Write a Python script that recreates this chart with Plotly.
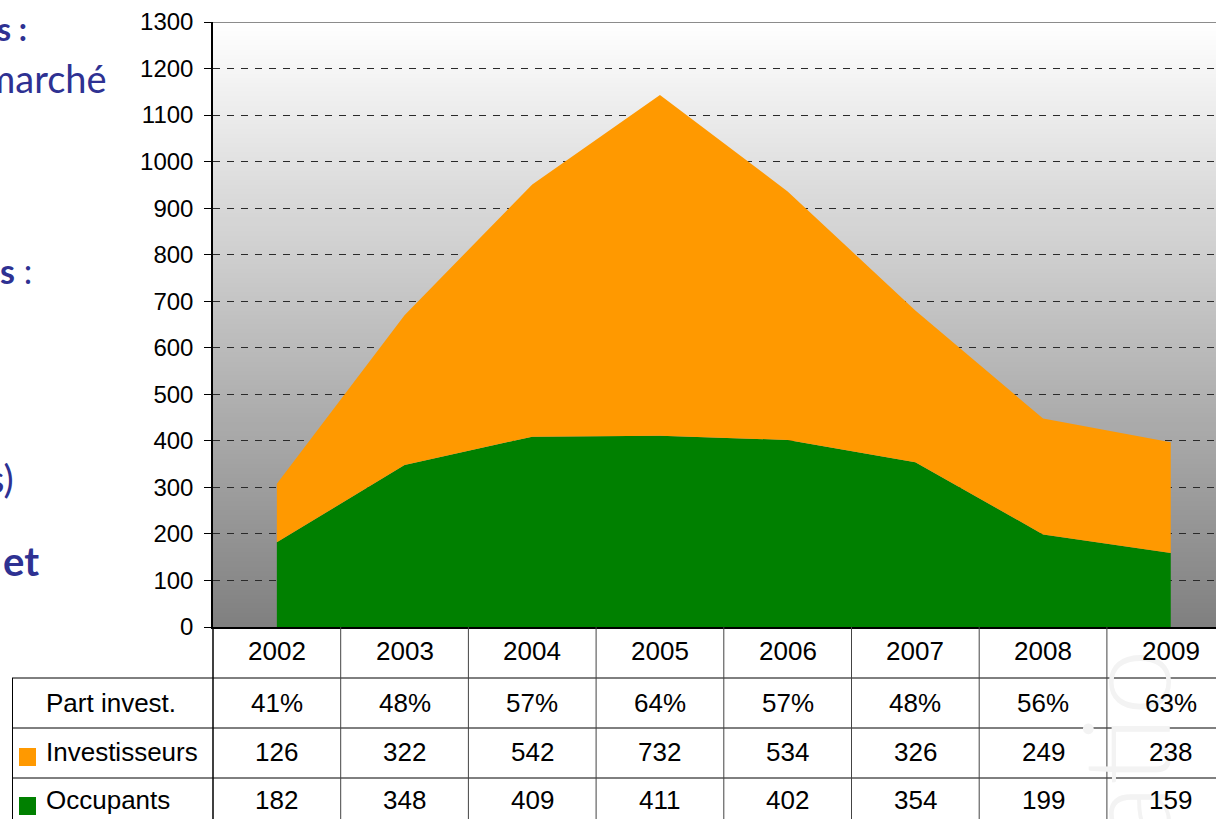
import plotly.graph_objects as go

# ---------------- data ----------------
years = ["2002", "2003", "2004", "2005", "2006", "2007", "2008", "2009"]
part_invest = ["41%", "48%", "57%", "64%", "57%", "48%", "56%", "63%"]
investisseurs = [126, 322, 542, 732, 534, 326, 249, 238]
occupants = [182, 348, 409, 411, 402, 354, 199, 159]
row_labels = ["Part invest.", "Investisseurs", "Occupants"]
y_max = 1300
y_step = 100

# ---------------- geometry helpers ----------------
W, H = 1216, 819
ML, MR, MT, MB = 213, 0, 22, 192
PW, PH = W - ML - MR, H - MT - MB
BOTTOM = MT + PH


def px_x(px):
    return (px - ML) / PW


def px_y(py):
    return (BOTTOM - py) / PH


COL_W = 127.7  # pixels per category
x_range = [-0.5, -0.5 + PW / COL_W]

FONT = "Liberation Sans, Arial, sans-serif"
BLUE = "#2E3192"
TSIZE = 26

fig = go.Figure()

fig.add_trace(go.Scatter(
    x=years, y=occupants, name="Occupants", stackgroup="one", mode="none",
    fillcolor="#008000", line=dict(width=0), hoverinfo="skip"))
fig.add_trace(go.Scatter(
    x=years, y=investisseurs, name="Investisseurs", stackgroup="one", mode="none",
    fillcolor="#FF9900", line=dict(width=0), hoverinfo="skip"))

shapes = []
# gradient background
band = 10
for v in range(0, y_max, band):
    mid = v + band / 2
    g = int(round(128 + (255 - 128) * mid / y_max))
    shapes.append(dict(type="rect", xref="paper", yref="y", x0=0, x1=1,
                       y0=v, y1=min(v + band + 2, y_max),
                       fillcolor=f"rgb({g},{g},{g})", line=dict(width=0),
                       layer="below"))
# top border
shapes.append(dict(type="line", xref="paper", yref="y", x0=0, x1=1, y0=y_max, y1=y_max,
                   line=dict(color="#8c8c8c", width=2), layer="above"))

# table lines
row_bounds = [678, 728, 778]
for py in row_bounds:
    shapes.append(dict(type="line", xref="paper", yref="paper", x0=px_x(12), x1=1,
                       y0=px_y(py), y1=px_y(py), line=dict(color="black", width=1)))
shapes.append(dict(type="line", xref="paper", yref="paper", x0=px_x(12.5), x1=px_x(12.5),
                   y0=px_y(678), y1=px_y(830), line=dict(color="black", width=1)))
shapes.append(dict(type="line", xref="paper", yref="paper", x0=0, x1=0,
                   y0=px_y(627), y1=px_y(830), line=dict(color="black", width=1.5)))
for i in range(len(years) - 1):
    shapes.append(dict(type="line", xref="x", yref="paper", x0=i + 0.5, x1=i + 0.5,
                       y0=px_y(627), y1=px_y(830), line=dict(color="#444444", width=1)))

# legend keys in the table
shapes.append(dict(type="rect", xref="paper", yref="paper", x0=px_x(19), x1=px_x(36),
                   y0=px_y(766), y1=px_y(748), fillcolor="#FF9900", line=dict(width=0)))
shapes.append(dict(type="rect", xref="paper", yref="paper", x0=px_x(19), x1=px_x(36),
                   y0=px_y(815), y1=px_y(797), fillcolor="#008000", line=dict(width=0)))

annotations = []
# watermark (behind text)
annotations.append(dict(text="atio", xref="paper", yref="paper", x=px_x(1124), y=px_y(746),
                        xanchor="center", yanchor="middle", textangle=-90, showarrow=False,
                        font=dict(family="Lato, sans-serif", size=120, color="#f3f3f3", weight=300)))

row_centers = [703, 752, 800]
# years header (category index positions on the x axis)
for i, yr in enumerate(years):
    annotations.append(dict(text=yr, xref="x", yref="paper", x=i, y=px_y(651),
                            xanchor="center", yanchor="middle", showarrow=False,
                            font=dict(family=FONT, size=TSIZE, color="black")))
for i, (a, b, c) in enumerate(zip(part_invest, investisseurs, occupants)):
    for val, yc in zip([a, b, c], row_centers):
        annotations.append(dict(text=str(val), xref="x", yref="paper", x=i, y=px_y(yc),
                                xanchor="center", yanchor="middle", showarrow=False,
                                font=dict(family=FONT, size=TSIZE, color="black")))
for lab, yc in zip(row_labels, row_centers):
    annotations.append(dict(text=lab, xref="paper", yref="paper", x=px_x(44), y=px_y(yc),
                            xanchor="left", yanchor="middle", showarrow=False,
                            font=dict(family=FONT, size=TSIZE, color="black")))

# clipped slide text on the left
side_text = [
    ("<b>s :</b>", 29, 29, 32),
    ("marché", 109, 78, 38),
    ("<b>s</b> :", 34, 270, 34),
    ("s)", 16, 478, 38),
    ("<b>et</b>", 41, 561, 40),
]
for txt, xr, yc, sz in side_text:
    annotations.append(dict(text=txt, xref="paper", yref="paper", x=px_x(xr), y=px_y(yc),
                            xanchor="right", yanchor="middle", showarrow=False,
                            font=dict(family="Lato, sans-serif", size=sz, color=BLUE)))

fig.update_layout(
    width=W, height=H,
    margin=dict(l=ML, r=MR, t=MT, b=MB, pad=0),
    paper_bgcolor="white", plot_bgcolor="white",
    showlegend=False,
    shapes=shapes, annotations=annotations,
    xaxis=dict(type="category", range=x_range, showticklabels=False, showgrid=False,
               zeroline=False, showline=True, linecolor="black", linewidth=1.5, ticks=""),
    yaxis=dict(range=[0, y_max], dtick=y_step, tick0=0, showgrid=True,
               gridcolor="#2a2a2a", gridwidth=1, griddash="7px,7px", zeroline=False,
               showline=True, linecolor="black", linewidth=1.5, ticks="outside",
               ticklen=7, tickcolor="black", tickwidth=1,
               tickfont=dict(family=FONT, size=24, color="black"),
               ticklabelstandoff=6),
)

fig.write_html("out.html")
